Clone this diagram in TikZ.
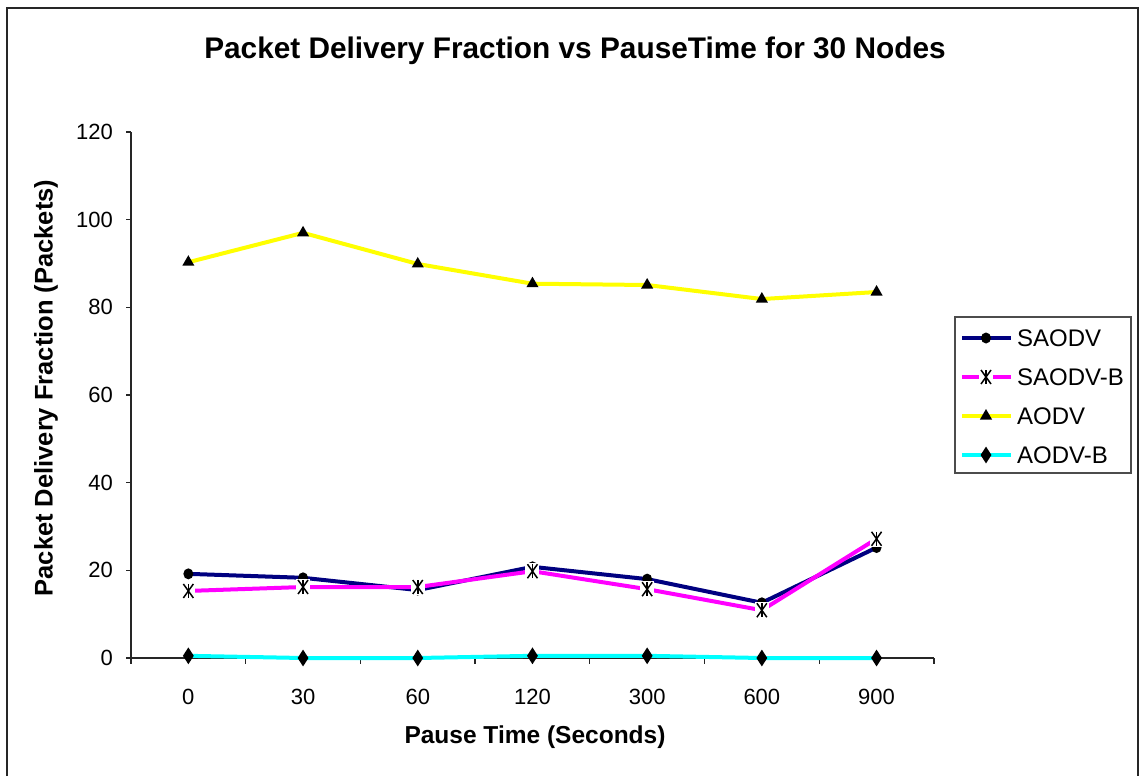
\documentclass[tikz,border=0pt]{standalone}
\usepackage{fontspec}
\setmainfont{Liberation Sans}
\usetikzlibrary{shapes.geometric}
\definecolor{navyline}{RGB}{0,0,128}
\definecolor{magline}{RGB}{255,0,255}
\definecolor{yelline}{RGB}{255,255,0}
\definecolor{cyanline}{RGB}{0,255,255}
\tikzset{
  series/.style={line width=4pt, line join=round},
  saodv/.style={series, draw=navyline},
  saodvb/.style={series, draw=magline},
  aodv/.style={series, draw=yelline},
  aodvb/.style={series, draw=cyanline},
  dotmark/.style={shape=ellipse, fill=black, inner sep=0pt, minimum width=10pt, minimum height=11pt},
  starmark/.style={shape=rectangle, fill=white, inner sep=0pt, minimum width=14pt, minimum height=16pt,
    path picture={
      \draw[line width=1.5pt] ([xshift=2pt,yshift=-1pt]path picture bounding box.north west) -- ([xshift=-2pt,yshift=1pt]path picture bounding box.south east);
      \draw[line width=1.5pt] ([xshift=2pt,yshift=1pt]path picture bounding box.south west) -- ([xshift=-2pt,yshift=-1pt]path picture bounding box.north east);
      \draw[line width=1.5pt] ([yshift=-1pt]path picture bounding box.north) -- ([yshift=1pt]path picture bounding box.south);
    }},
  trimark/.style={regular polygon, regular polygon sides=3, fill=black, inner sep=0pt, minimum size=14pt},
  diamark/.style={diamond, fill=black, inner sep=0pt, minimum width=11pt, minimum height=17pt},
  axis/.style={line width=1.3pt, draw=black!85},
  ticklabel/.style={font=\fontsize{22}{26}\selectfont, inner sep=0pt},
  legendtext/.style={font=\fontsize{24}{28}\selectfont, inner sep=0pt, anchor=west},
  axislabel/.style={font=\bfseries\fontsize{24.5}{29}\selectfont, inner sep=0pt},
}
\begin{document}
\begin{tikzpicture}[x=1pt, y=-1pt]
  \useasboundingbox (0,0) rectangle (1139,776);
  % chart frame (bottom edge is off the page)
  \draw[line width=1.6pt, draw=black!85] (7,776) -- (7,8) -- (1138,8) -- (1138,776);

  \node[font=\bfseries\fontsize{29.8}{34}\selectfont, inner sep=0pt] (title) at (575,51)
    {Packet Delivery Fraction vs PauseTime for 30 Nodes};
  \node[axislabel, rotate=90, font=\bfseries\fontsize{25.5}{30}\selectfont] (ylabel) at (46,388)
    {Packet Delivery Fraction (Packets)};
  \node[axislabel] (xlabel) at (535,737) {Pause Time (Seconds)};

  \begin{scope}[shift={(131,658)}, x=114.7pt, y=4.383pt]
    % axes and ticks
    \draw[axis] (0,120) -- (0,0) -- (7,0);
    \foreach \v in {0,20,...,120} {
      \draw[axis] (0,\v) -- ++(-5pt,0);
      \node[ticklabel, anchor=east] (yt\v) at ([xshift=-18pt]0,\v) {\v};
    }
    \foreach \i in {0,...,7}
      \draw[axis] (\i,0) -- ++(0,-6pt);
    \foreach \t [count=\i from 0] in {0,30,60,120,300,600,900}
      \node[ticklabel] (xt\i) at ([yshift=-39pt]\i+0.5,0) {\t};

    % data points
    \foreach \v [count=\i from 0] in {19.2,18.3,15.5,20.8,18.0,12.6,25.2}
      \coordinate (sa\i) at (\i+0.5,\v);
    \foreach \v [count=\i from 0] in {15.3,16.2,16.2,19.8,15.7,10.9,27.2}
      \coordinate (sb\i) at (\i+0.5,\v);
    \foreach \v [count=\i from 0] in {90.3,97.0,89.9,85.4,85.1,81.9,83.5}
      \coordinate (ao\i) at (\i+0.5,\v);
    \foreach \v [count=\i from 0] in {0.5,0,0,0.5,0.5,0,0}
      \coordinate (ab\i) at (\i+0.5,\v);

    % SAODV
    \draw[saodv] (sa0) -- (sa1) -- (sa2) -- (sa3) -- (sa4) -- (sa5) -- (sa6);
    \foreach \i in {0,...,6} \node[dotmark] (saM\i) at (sa\i) {};
    % SAODV-B
    \draw[saodvb] (sb0) -- (sb1) -- (sb2) -- (sb3) -- (sb4) -- (sb5) -- (sb6);
    \foreach \i in {0,...,6} \node[starmark] (sbM\i) at (sb\i) {};
    % AODV
    \draw[aodv] (ao0) -- (ao1) -- (ao2) -- (ao3) -- (ao4) -- (ao5) -- (ao6);
    \foreach \i in {0,...,6} \node[trimark] (aoM\i) at (ao\i) {};
    % AODV-B
    \draw[aodvb] (ab0) -- (ab1) -- (ab2) -- (ab3) -- (ab4) -- (ab5) -- (ab6);
    \foreach \i in {0,...,6} \node[diamark] (abM\i) at (ab\i) {};
  \end{scope}

  % legend
  \draw[line width=1.2pt, draw=black!70] (955,317) rectangle (1131,473);
  \foreach \name/\sty/\mk [count=\k from 0] in {SAODV/saodv/dotmark, SAODV-B/saodvb/starmark, AODV/aodv/trimark, AODV-B/aodvb/diamark} {
    \coordinate (lgA\k) at (962,338+39*\k);
    \coordinate (lgB\k) at (1011,338+39*\k);
    \draw[\sty] (lgA\k) -- (lgB\k);
    \node[\mk] (lgM\k) at (986,338+39*\k) {};
    \node[legendtext] (lgT\k) at (1017,338+39*\k) {\name};
  }
\end{tikzpicture}
\end{document}
